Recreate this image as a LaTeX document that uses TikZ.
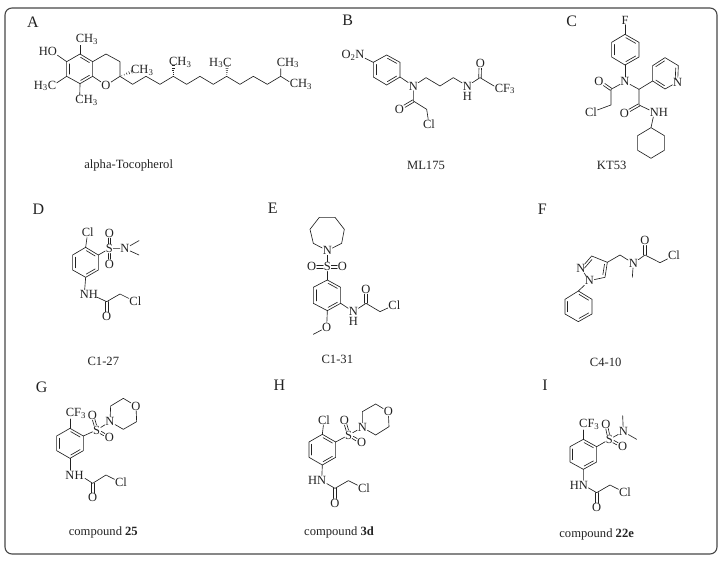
\documentclass[tikz,border=0pt]{standalone}
\usepackage{fontspec}
\setmainfont{Liberation Serif}
\usetikzlibrary{calc}
\definecolor{ink}{HTML}{222222}
\tikzset{
  bond/.style={draw=ink,line width=.65pt,line join=round,line cap=round},
  atom/.style={inner sep=.6pt,outer sep=0pt,text=ink,font=\fontsize{12.5}{13}\selectfont},
  caption/.style={inner sep=0pt,text=ink,font=\fontsize{12.6}{14}\selectfont},
  panel/.style={inner sep=0pt,text=ink,font=\fontsize{16}{18}\selectfont},
  frame/.style={draw=black!72,line width=1.1pt,rounded corners=7pt},
  zoomed/.style 2 args={shift={(#1pt,-#2pt)},x=.3333pt,y=-.3333pt}
}
\newcommand\pts[1]{\foreach \n/\xx/\yy in {#1}{\coordinate (\n) at (\xx,\yy);}}
\newcommand\dbl[2]{\draw[bond] ($(#1)!.15!(#2)!2.5pt!-90:(#2)$) -- ($(#1)!.85!(#2)!2.5pt!-90:(#2)$);}
% double bond between a centre and a labelled atom: two lines, cut at the label's box
\newcommand\twob[2]{\path (#1) -- (#2) coordinate[pos=0] (bp) coordinate[pos=1] (bq);
  \draw[bond] ($(bp)!1.25pt!90:(bq)$) -- ($(bq)!1.25pt!-90:(bp)$);
  \draw[bond] ($(bp)!1.25pt!-90:(bq)$) -- ($(bq)!1.25pt!90:(bp)$);}
\newcommand\benz[1]{\draw[bond] (#11)--(#12)--(#13)--(#14)--(#15)--(#16)--cycle;
  \dbl{#11}{#12}\dbl{#13}{#14}\dbl{#15}{#16}}
\newcommand\hashb[2]{\foreach \t/\w in {.12/.35pt,.28/.7pt,.44/1.05pt,.6/1.4pt,.76/1.75pt}{
  \draw[ink,line width=.5pt] ($(#1)!\t!(#2)!\w!90:(#2)$) -- ($(#1)!\t!(#2)!\w!-90:(#2)$);}}
\newcommand\sbt[1]{\textsubscript{#1}}
\begin{document}
\begin{tikzpicture}
\useasboundingbox (0,0) rectangle (725pt,-561pt);
\draw[frame] (5pt,-8pt) rectangle (717pt,-554pt);

% ---------- A
\begin{scope}[zoomed={10}{5}]
\node[panel] (pA) at (69,52) {A};
\pts{A1/210/147,A2/248/170,A3/248/214,A4/210/236,A5/170/214,A6/170/170,
 Ay1/288/147,Ay2/330/170,Ay3/330/214,
 Ac1/368/238,Ac2/408/214,Ac3/450/238,Ac4/490/214,Ac5/530/238,Ac6/570/214,Ac7/610/238,Ac8/650/214,Ac9/690/238,Ac10/730/214,Ac11/772/238,Ac12/812/214}
\benz{A}
\node[atom] (AO) at (288,241) {O};
\node[atom] (AHO) at (127,140) {\llap{H}O};
\node[atom] (AMe1) at (210,104) {C\rlap{H\sbt{3}}};
\node[atom] (AMe2) at (126,243) {\llap{H\sbt{3}}C};
\node[atom] (AMe3) at (209,287) {C\rlap{H\sbt{3}}};
\node[atom] (AMe4) at (376,196) {C\rlap{H\sbt{3}}};
\node[atom] (AMe5) at (490,172) {C\rlap{H\sbt{3}}};
\node[atom] (AMe6) at (652,174) {\llap{H\sbt{3}}C};
\node[atom] (AMe7) at (813,174) {C\rlap{H\sbt{3}}};
\node[atom] (AMe8) at (852,239) {C\rlap{H\sbt{3}}};
\draw[bond] (A6)--(AHO); \draw[bond] (A1)--(AMe1); \draw[bond] (A5)--(AMe2); \draw[bond] (A4)--(AMe3);
\draw[bond] (A2)--(Ay1)--(Ay2)--(Ay3)--(AO)--(A3);
\draw[bond] (Ay3)--(Ac1)--(Ac2)--(Ac3)--(Ac4)--(Ac5)--(Ac6)--(Ac7)--(Ac8)--(Ac9)--(Ac10)--(Ac11)--(Ac12);
\draw[bond] (Ac12)--(AMe7); \draw[bond] (Ac12)--(AMe8);
\hashb{Ay3}{AMe4}\hashb{Ac4}{AMe5}\hashb{Ac8}{AMe6}
\node[caption] (cA) at (356,480) {alpha-Tocopherol};
\end{scope}

% ---------- B
\begin{scope}[zoomed={330}{5}]
\node[panel] (pB) at (53,47) {B};
\pts{B1/170/150,B2/210/172,B3/210/216,B4/170/240,B5/130/216,B6/130/172,
 Bc1/288/218,Bc2/330/243,Bc3/370/218,Bc4/450/218,Bc5/250/288,Bc6/290/313}
\benz{B}
\node[atom] (BN1) at (90,152) {\llap{O\sbt{2}}N};
\node[atom] (BN2) at (250,243) {N};
\node[atom] (BN3) at (412,243) {N};
\node[atom] (BH) at (412,275) {H};
\node[atom] (BO1) at (451,175) {O};
\node[atom] (BO2) at (208,313) {O};
\node[atom] (BCF) at (507,252) {C\rlap{F\sbt{3}}};
\node[atom] (BCl) at (297,358) {Cl};
\draw[bond] (BN1)--(B6); \draw[bond] (B3)--(BN2);
\draw[bond] (BN2)--(Bc1)--(Bc2)--(Bc3)--(BN3)--(Bc4)--(BCF);
\twob{Bc4}{BO1}
\draw[bond] (BN2)--(Bc5)--(Bc6)--(BCl);
\twob{Bc5}{BO2}
\node[caption] (cB) at (288,482) {ML175};
\end{scope}

% ---------- C
\begin{scope}[zoomed={530}{5}]
\node[panel] (pC) at (125,50) {C};
\pts{C1/285/88,C2/327/112,C3/327/156,C4/285/180,C5/245/156,C6/245/112,
 Cc1/243/253,Cc2/243/300,Cc3/327/253,Cc4/327/300,
 Cp1/368/228,Cp2/368/182,Cp3/405/158,Cp4/445/182,Cp6/405/252,
 Cy1/363/368,Cy2/403/392,Cy3/403/436,Cy4/363/460,Cy5/323/436,Cy6/323/392}
\benz{C}
\node[atom] (CF) at (285,45) {F};
\node[atom] (CN1) at (285,230) {N};
\node[atom] (CO1) at (207,228) {O};
\node[atom] (CCl) at (183,322) {Cl};
\node[atom] (CpN) at (443,231) {N};
\node[atom] (CO2) at (283,325) {O};
\node[atom] (CN2) at (373,322) {N\rlap{H}};
\draw[bond] (C1)--(CF); \draw[bond] (C4)--(CN1);
\draw[bond] (CN1)--(Cc1)--(Cc2)--(CCl); \twob{Cc1}{CO1}
\draw[bond] (CN1)--(Cc3)--(Cc4)--(CN2); \twob{Cc4}{CO2}
\draw[bond] (Cc3)--(Cp1)--(Cp2)--(Cp3)--(Cp4)--(CpN)--(Cp6)--(Cp1);
\dbl{Cp2}{Cp3}\dbl{Cp4}{CpN}\dbl{Cp6}{Cp1}
\draw[bond] (CN2)--(Cy1)--(Cy2)--(Cy3)--(Cy4)--(Cy5)--(Cy6)--(Cy1);
\node[caption] (cC) at (245,482) {KT53};
\end{scope}

% ---------- D
\begin{scope}[zoomed={20}{190}]
\node[panel] (pD) at (55,58) {D};
\pts{D1/197/172,D2/235/195,D3/235/240,D4/197/262,D5/158/240,D6/158/195,
 Dc1/260/335,Dc2/300/312,Dm1/357/152,Dm2/357/195,Dh/232/322}
\benz{D}
\node[atom] (DCl1) at (203,128) {Cl};
\node[atom] (DS) at (268,176) {S};
\node[atom] (DO1) at (268,130) {O};
\node[atom] (DO2) at (268,222) {O};
\node[atom] (DN) at (315,176) {N};
\node[atom] (DN2) at (193,313) {N\rlap{H}};
\node[atom] (DO3) at (260,380) {O};
\node[atom] (DCl2) at (346,335) {Cl};
\draw[bond] (D1)--(DCl1); \draw[bond] (D2)--(DS)--(DN)--(Dm1); \draw[bond] (DN)--(Dm2);
\twob{DS}{DO1}\twob{DS}{DO2}
\draw[bond] (D4)--(DN2);
\draw[bond] (Dh)--(Dc1)--(Dc2)--(DCl2);
\twob{Dc1}{DO3}
\node[caption] (cD) at (250,515) {C1-27};
\end{scope}

% ---------- E
\begin{scope}[zoomed={250}{190}]
\node[panel] (pE) at (68,55) {E};
\pts{E1/232/270,E2/272/292,E3/272/340,E4/232/362,E5/190/340,E6/190/292,
 Ea1/190/160,Ea2/180/118,Ea3/208/82,Ea4/255/82,Ea5/283/118,Ea6/275/160,
 Ec1/348/340,Ec2/390/365,Em/190/433}
\benz{E}
\node[atom] (EN) at (232,182) {N};
\node[atom] (ES) at (232,230) {S};
\node[atom] (EO1) at (185,230) {O};
\node[atom] (EO2) at (277,230) {O};
\node[atom] (EN2) at (310,365) {N};
\node[atom] (EH) at (310,393) {H};
\node[atom] (EO3) at (348,298) {O};
\node[atom] (ECl) at (433,345) {Cl};
\node[atom] (EO4) at (230,412) {O};
\draw[bond] (EN)--(Ea1)--(Ea2)--(Ea3)--(Ea4)--(Ea5)--(Ea6)--(EN);
\draw[bond] (EN)--(ES)--(E1);
\twob{ES}{EO1}\twob{ES}{EO2}
\draw[bond] (E3)--(EN2)--(Ec1)--(Ec2)--(ECl); \twob{Ec1}{EO3}
\draw[bond] (E4)--(EO4)--(Em);
\node[caption] (cE) at (262,508) {C1-31};
\end{scope}

% ---------- F
\begin{scope}[zoomed={530}{190}]
\node[panel] (pF) at (37,58) {F};
\pts{F1/145/303,F2/186/328,F3/186/372,F4/145/395,F5/105/372,F6/105/328,
 Fz3/185/198,Fz4/232/217,Fz5/225/262,Fc1/270/195,Fc2/345/195,Fc3/390/218,Fm/307/262}
\benz{F}
\node[atom] (FN1) at (178,272) {N};
\node[atom] (FN2) at (153,235) {N};
\node[atom] (FN3) at (310,220) {N};
\node[atom] (FO) at (345,152) {O};
\node[atom] (FCl) at (432,197) {Cl};
\draw[bond] (F1)--(FN1)--(FN2)--(Fz3)--(Fz4)--(Fz5)--(FN1);
\dbl{FN2}{Fz3}\dbl{Fz4}{Fz5}
\draw[bond] (Fz4)--(Fc1)--(FN3)--(Fc2)--(Fc3)--(FCl); \draw[bond] (FN3)--(Fm);
\twob{Fc2}{FO}
\node[caption] (cF) at (227,517) {C4-10};
\end{scope}

% ---------- G
\begin{scope}[zoomed={20}{370}]
\node[panel] (pG) at (65,52) {G};
\pts{G1/150/175,G2/190/198,G3/190/242,G4/150/265,G5/110/242,G6/110/198,
 Gm1/272/108,Gm2/310/85,Gm3/350/155,Gm4/310/178,Gc1/218/340,Gc2/258/315,Gh/195/325}
\benz{G}
\node[atom] (GCF) at (150,130) {C\rlap{F\sbt{3}}};
\node[atom] (GS) at (230,180) {S};
\node[atom] (GO1) at (217,135) {O};
\node[atom] (GO2) at (268,203) {O};
\node[atom] (GN) at (270,155) {N};
\node[atom] (GO3) at (348,108) {O};
\node[atom] (GN2) at (150,315) {N\rlap{H}};
\node[atom] (GO4) at (218,383) {O};
\node[atom] (GCl) at (303,338) {Cl};
\draw[bond] (G1)--(GCF); \draw[bond] (G2)--(GS)--(GN);
\twob{GS}{GO1}\twob{GS}{GO2}
\draw[bond] (GN)--(Gm1)--(Gm2)--(GO3)--(Gm3)--(Gm4)--(GN);
\draw[bond] (G4)--(GN2);
\draw[bond] (Gh)--(Gc1)--(Gc2)--(GCl); \twob{Gc1}{GO4}
\node[caption] (cG) at (250,487) {compound \textbf{25}};
\end{scope}

% ---------- H
\begin{scope}[zoomed={260}{370}]
\node[panel] (pH) at (58,45) {H};
\pts{H1/187/193,H2/227/216,H3/227/262,H4/187/285,H5/147/262,H6/147/216,
 Hm1/307/125,Hm2/347/102,Hm3/387/170,Hm4/347/195,Hc1/225/355,Hc2/265/332}
\benz{H}
\node[atom] (HCl1) at (192,150) {Cl};
\node[atom] (HS) at (266,195) {S};
\node[atom] (HO1) at (253,150) {O};
\node[atom] (HO2) at (305,218) {O};
\node[atom] (HN) at (307,172) {N};
\node[atom] (HO3) at (385,125) {O};
\node[atom] (HN2) at (185,332) {\llap{H}N};
\node[atom] (HO4) at (225,400) {O};
\node[atom] (HCl2) at (312,355) {Cl};
\draw[bond] (H1)--(HCl1); \draw[bond] (H2)--(HS)--(HN);
\twob{HS}{HO1}\twob{HS}{HO2}
\draw[bond] (HN)--(Hm1)--(Hm2)--(HO3)--(Hm3)--(Hm4)--(HN);
\draw[bond] (H4)--(HN2)--(Hc1)--(Hc2)--(HCl2); \twob{Hc1}{HO4}
\node[caption] (cH) at (237,488) {compound \textbf{3d}};
\end{scope}

% ---------- I
\begin{scope}[zoomed={530}{370}]
\node[panel] (pI) at (45,45) {I};
\pts{I1/160/208,I2/200/230,I3/200/276,I4/160/298,I5/120/276,I6/120/230,
 Im1/278/137,Im2/320/208,Ic1/200/368,Ic2/240/345}
\benz{I}
\node[atom] (ICF) at (160,163) {C\rlap{F\sbt{3}}};
\node[atom] (IS) at (238,208) {S};
\node[atom] (IO1) at (228,162) {O};
\node[atom] (IO2) at (278,230) {O};
\node[atom] (IN) at (280,185) {N};
\node[atom] (IN2) at (160,345) {\llap{H}N};
\node[atom] (IO3) at (200,413) {O};
\node[atom] (ICl) at (285,368) {Cl};
\draw[bond] (I1)--(ICF); \draw[bond] (I2)--(IS)--(IN)--(Im1); \draw[bond] (IN)--(Im2);
\twob{IS}{IO1}\twob{IS}{IO2}
\draw[bond] (I4)--(IN2)--(Ic1)--(Ic2)--(ICl); \twob{Ic1}{IO3}
\node[caption] (cI) at (200,492) {compound \textbf{22e}};
\end{scope}
\end{tikzpicture}
\end{document}
